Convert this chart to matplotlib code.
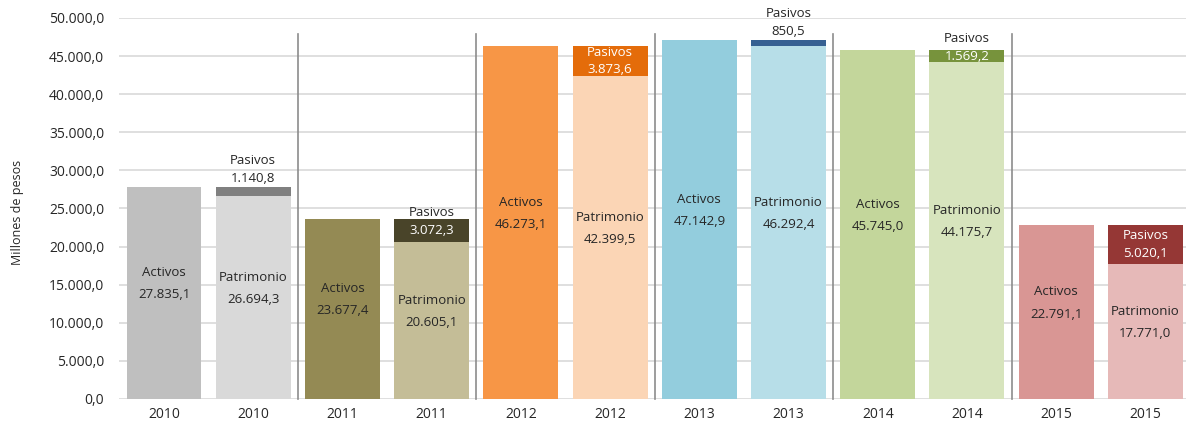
import numpy as np
import matplotlib
matplotlib.use('Agg')
import matplotlib.pyplot as plt

years = ['2010', '2011', '2012', '2013', '2014', '2015']
activos = [27835.1, 23677.4, 46273.1, 47142.9, 45745.0, 22791.1]
patrimonio = [26694.3, 20605.1, 42399.5, 46292.4, 44175.7, 17771.0]
pasivos = [1140.8, 3072.3, 3873.6, 850.5, 1569.2, 5020.1]

col_act = ['#BFBFBF', '#948A54', '#F79646', '#93CDDD', '#C3D69B', '#D99694']
col_pat = ['#D9D9D9', '#C4BD97', '#FBD5B5', '#B7DEE8', '#D7E4BD', '#E6B9B8']
col_pas = ['#808080', '#494429', '#E46C0A', '#366092', '#77933C', '#953735']

dark = '#262626'
plt.rcParams['font.family'] = ['Open Sans', 'DejaVu Sans']


def fmt(v):
    s = '{:,.1f}'.format(v)
    return s.replace(',', 'X').replace('.', ',').replace('X', '.')


fig = plt.figure(figsize=(11.86, 4.25), dpi=100)
ax = fig.add_axes([119.4 / 1186, 26 / 425, (1186 - 119.4) / 1186, 381 / 425])

w = 0.84
xa = np.arange(len(years)) * 2
xp = xa + 1

ax.bar(xa, activos, width=w, color=col_act, zorder=2)
ax.bar(xp, patrimonio, width=w, color=col_pat, zorder=2)
ax.bar(xp, pasivos, width=w, bottom=patrimonio, color=col_pas, zorder=2)

fs = 9.5
for i in range(len(years)):
    # activos / patrimonio labels
    ya = activos[i] / 2 + 1200
    ax.text(xa[i], ya + 1450, 'Activos', ha='center', va='center', fontsize=fs, color=dark)
    ax.text(xa[i], ya - 1450, fmt(activos[i]), ha='center', va='center', fontsize=fs, color=dark)
    yp = patrimonio[i] / 2 + 1200
    ax.text(xp[i], yp + 1450, 'Patrimonio', ha='center', va='center', fontsize=fs, color=dark)
    ax.text(xp[i], yp - 1450, fmt(patrimonio[i]), ha='center', va='center', fontsize=fs, color=dark)

    # pasivos labels
    mid = patrimonio[i] + pasivos[i] / 2
    top = patrimonio[i] + pasivos[i]
    if pasivos[i] > 3500:
        ax.text(xp[i], mid + 1150, 'Pasivos', ha='center', va='center', fontsize=fs, color='white', zorder=3)
        ax.text(xp[i], mid - 1150, fmt(pasivos[i]), ha='center', va='center', fontsize=fs, color='white', zorder=3)
    elif pasivos[i] > 1500:
        ax.text(xp[i], mid, fmt(pasivos[i]), ha='center', va='center', fontsize=fs, color='white', zorder=3)
        ax.text(xp[i], mid + 2300, 'Pasivos', ha='center', va='center', fontsize=fs, color=dark, zorder=3,
                clip_on=False)
    else:
        ax.text(xp[i], top + 1100, fmt(pasivos[i]), ha='center', va='center', fontsize=fs, color=dark,
                clip_on=False)
        ax.text(xp[i], top + 3400, 'Pasivos', ha='center', va='center', fontsize=fs, color=dark,
                clip_on=False)

# separators between years
for s in xp[:-1] + 0.5:
    ax.plot([s, s], [0, 47900], color='#8C8C8C', lw=1.2, zorder=1, clip_on=False)

ax.set_xlim(-0.5, 11.455)
ax.set_ylim(0, 50000)
ax.set_yticks(np.arange(0, 50001, 5000))
ax.set_yticklabels([fmt(v) for v in np.arange(0, 50001, 5000)])
xs = np.sort(np.concatenate([xa, xp]))
ax.set_xticks(xs)
ax.set_xticklabels([y for y in years for _ in range(2)])
ax.tick_params(axis='both', length=0, labelsize=10, colors=dark)
ax.tick_params(axis='x', pad=6)
ax.tick_params(axis='y', pad=11)
ax.grid(axis='y', color='#D9D9D9', lw=1.2, zorder=0)
ax.set_axisbelow(True)
for sp in ax.spines.values():
    sp.set_visible(False)

fig.text(18 / 1186, 1 - 212 / 425, 'Millones de pesos', rotation=90, ha='center', va='center',
         fontsize=9, color=dark)

fig.savefig('out.png', dpi=100)
